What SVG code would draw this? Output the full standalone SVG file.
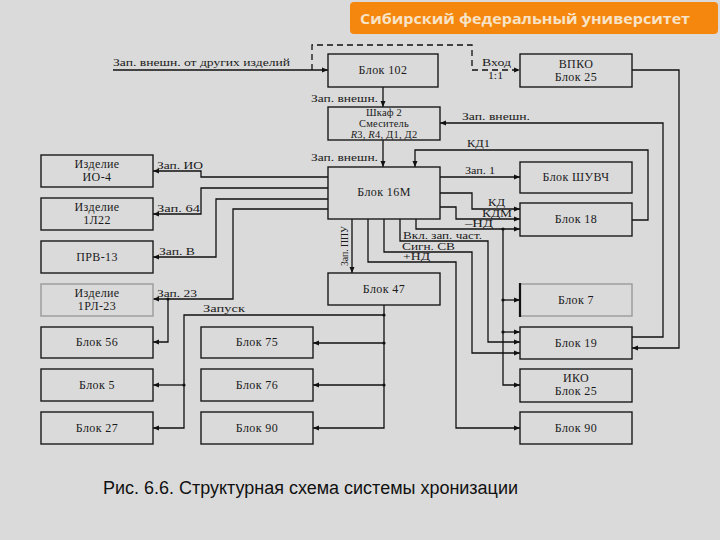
<svg xmlns="http://www.w3.org/2000/svg" width="720" height="540" viewBox="0 0 720 540">
<defs>
<marker id="ar" markerWidth="6" markerHeight="6" refX="6" refY="3" orient="auto" markerUnits="userSpaceOnUse"><path d="M0,0.5 L6,3 L0,5.5 z" fill="#111"/></marker>
<style>
.bx{fill:none;stroke:#1a1a1a;stroke-width:1.4}
.bxl{fill:none;stroke:#9a9a9a;stroke-width:1.4}
.t{font-family:"Liberation Serif","Times New Roman",serif;font-size:12px;letter-spacing:0.4px;fill:#1a1a1a;text-anchor:middle}
.s{font-size:10.5px;letter-spacing:0.2px}
.l{font-family:"Liberation Serif","Times New Roman",serif;font-size:11px;fill:#1a1a1a}
.m{font-size:9.5px}
.c{fill:none;stroke:#111;stroke-width:1.3}
.a{marker-end:url(#ar)}
.d{fill:#111}
</style>
</defs>
<rect width="720" height="540" fill="#dadada"/>
<g id="header">
<rect x="350" y="2" width="368" height="32" rx="4" fill="#f5870e"/>
<text x="360" y="24" font-family="'Open Sans','DejaVu Sans',sans-serif" font-weight="bold" font-size="15" fill="#f7e3c8" textLength="330" lengthAdjust="spacingAndGlyphs">Сибирский федеральный университет</text>
</g>
<g id="connectors">
<path class="c a" d="M113,70 H328"/>
<path class="c a" d="M312,70 V45 H472 V70 H520" stroke-dasharray="6,4"/>
<path class="c a" d="M383,87 V107"/>
<path class="c a" d="M383,140 V167"/>
<path class="c a" d="M632,70 H679 V348 H632"/>
<path class="c a" d="M632,337 H663 V123 H440"/>
<path class="c a" d="M632,220 H648 V150 H415 V167"/>
<path class="c a" d="M440,177 H520"/>
<path class="c a" d="M440,193 H472 V209 H520"/>
<path class="c a" d="M440,207 H456 V219 H520"/>
<path class="c a" d="M416,219 V229 H520"/>
<path class="c a" d="M503,229 V385 H520"/>
<path class="c a" d="M503,300 H520"/>
<path class="c a" d="M503,332 H520"/>
<circle class="d" cx="503" cy="229" r="1.6"/>
<circle class="d" cx="503" cy="300" r="1.6"/>
<circle class="d" cx="503" cy="332" r="1.6"/>
<path class="c a" d="M400,219 V241 H488 V342 H520"/>
<path class="c a" d="M384,219 V252 H472 V353 H520"/>
<path class="c a" d="M368,219 V262 H456 V428 H520"/>
<path class="c a" d="M352,219 V273"/>
<path class="c a" d="M328,177 H201 V171 H153"/>
<path class="c a" d="M328,188 H201 V214 H153"/>
<path class="c a" d="M328,199 H216 V257 H153"/>
<path class="c a" d="M328,209 H233 V299 H153"/>
<path class="c a" d="M168,299 V342 H153"/>
<circle class="d" cx="168" cy="299" r="1.6"/>
<path class="c a" d="M384,305 V428 H313"/>
<path class="c a" d="M384,343 H313"/>
<path class="c a" d="M384,385 H313"/>
<circle class="d" cx="384" cy="315" r="1.6"/>
<circle class="d" cx="384" cy="343" r="1.6"/>
<circle class="d" cx="384" cy="385" r="1.6"/>
<path class="c a" d="M384,315 H184 V428 H153"/>
<path class="c a" d="M184,385 H153"/>
<circle class="d" cx="184" cy="385" r="1.6"/>
<text class="l" x="113" y="66" textLength="177" lengthAdjust="spacingAndGlyphs">Зап. внешн. от других изделий</text>
<text class="l" x="482" y="66" textLength="29" lengthAdjust="spacingAndGlyphs">Вход</text>
<text class="l" x="488" y="79" textLength="15" lengthAdjust="spacingAndGlyphs">1:1</text>
<text class="l" x="311" y="102" textLength="67" lengthAdjust="spacingAndGlyphs">Зап. внешн.</text>
<text class="l" x="311" y="161" textLength="67" lengthAdjust="spacingAndGlyphs">Зап. внешн.</text>
<text class="l" x="462" y="120" textLength="68" lengthAdjust="spacingAndGlyphs">Зап. внешн.</text>
<text class="l" x="467" y="147" textLength="23" lengthAdjust="spacingAndGlyphs">КД1</text>
<text class="l" x="465" y="174" textLength="30" lengthAdjust="spacingAndGlyphs">Зап. 1</text>
<text class="l m" x="488" y="206" textLength="17" lengthAdjust="spacingAndGlyphs">КД</text>
<text class="l m" x="482" y="216.5" textLength="30" lengthAdjust="spacingAndGlyphs">КДМ</text>
<text class="l m" x="465" y="227" textLength="28" lengthAdjust="spacingAndGlyphs">–НД</text>
<text class="l m" x="403" y="239" textLength="79" lengthAdjust="spacingAndGlyphs">Вкл. зап. част.</text>
<text class="l m" x="402" y="249.5" textLength="53" lengthAdjust="spacingAndGlyphs">Сигн. СВ</text>
<text class="l m" x="403" y="260" textLength="27" lengthAdjust="spacingAndGlyphs">+НД</text>
<text class="l" x="0" y="0" transform="translate(348,266) rotate(-90)" font-size="10" textLength="40" lengthAdjust="spacingAndGlyphs">Зап. ППУ</text>
<text class="l" x="157" y="169" textLength="46" lengthAdjust="spacingAndGlyphs">Зап. ИО</text>
<text class="l" x="157" y="212" textLength="43" lengthAdjust="spacingAndGlyphs">Зап. 64</text>
<text class="l" x="159" y="255" textLength="36" lengthAdjust="spacingAndGlyphs">Зап. В</text>
<text class="l" x="157" y="297" textLength="40" lengthAdjust="spacingAndGlyphs">Зап. 23</text>
<text class="l" x="203" y="312" textLength="42" lengthAdjust="spacingAndGlyphs">Запуск</text>
</g>
<g id="n-b102"><rect class="bx" x="328" y="54" width="110" height="33"/><text class="t" x="383" y="74">Блок 102</text></g>
<g id="n-vpko"><rect class="bx" x="520" y="54" width="112" height="33"/><text class="t" x="576" y="68">ВПКО</text><text class="t" x="576" y="81">Блок 25</text></g>
<g id="n-shkaf2"><rect class="bx" x="328" y="107" width="112" height="33"/><text class="t s" x="384" y="116">Шкаф 2</text><text class="t s" x="384" y="127">Смеситель</text><text class="t s" x="384" y="138"><tspan font-style="italic">R</tspan>3, <tspan font-style="italic">R</tspan>4, Д1, Д2</text></g>
<g id="n-b16m"><rect class="bx" x="328" y="167" width="112" height="52"/><text class="t" x="384" y="196">Блок 16М</text></g>
<g id="n-io4"><rect class="bx" x="41" y="155" width="112" height="32"/><text class="t" x="97" y="168">Изделие</text><text class="t" x="97" y="181">ИО-4</text></g>
<g id="n-1l22"><rect class="bx" x="41" y="198" width="112" height="32"/><text class="t" x="97" y="211">Изделие</text><text class="t" x="97" y="224">1Л22</text></g>
<g id="n-prv13"><rect class="bx" x="41" y="241" width="112" height="32"/><text class="t" x="97" y="261">ПРВ-13</text></g>
<g id="n-1rl23"><rect class="bxl" x="41" y="284" width="112" height="32"/><text class="t" x="97" y="297">Изделие</text><text class="t" x="97" y="310">1РЛ-23</text></g>
<g id="n-b56"><rect class="bx" x="41" y="327" width="112" height="31"/><text class="t" x="97" y="346">Блок 56</text></g>
<g id="n-b5"><rect class="bx" x="41" y="369" width="112" height="32"/><text class="t" x="97" y="389">Блок 5</text></g>
<g id="n-b27"><rect class="bx" x="41" y="412" width="112" height="32"/><text class="t" x="97" y="432">Блок 27</text></g>
<g id="n-b75"><rect class="bx" x="201" y="327" width="112" height="31"/><text class="t" x="257" y="346">Блок 75</text></g>
<g id="n-b76"><rect class="bx" x="201" y="369" width="112" height="32"/><text class="t" x="257" y="389">Блок 76</text></g>
<g id="n-b90a"><rect class="bx" x="201" y="412" width="112" height="32"/><text class="t" x="257" y="432">Блок 90</text></g>
<g id="n-b47"><rect class="bx" x="328" y="273" width="112" height="32"/><text class="t" x="384" y="293">Блок 47</text></g>
<g id="n-shuvch"><rect class="bx" x="520" y="162" width="112" height="31"/><text class="t" x="576" y="181">Блок ШУВЧ</text></g>
<g id="n-b18"><rect class="bx" x="520" y="203" width="112" height="33"/><text class="t" x="576" y="223">Блок 18</text></g>
<g id="n-b7"><rect class="bxl" x="520" y="284" width="112" height="32"/><line x1="520" y1="283" x2="520" y2="317" stroke="#111" stroke-width="2.2"/><text class="t" x="576" y="304">Блок 7</text></g>
<g id="n-b19"><rect class="bx" x="520" y="327" width="112" height="32"/><text class="t" x="576" y="347">Блок 19</text></g>
<g id="n-iko"><rect class="bx" x="520" y="369" width="112" height="33"/><text class="t" x="576" y="382">ИКО</text><text class="t" x="576" y="395">Блок 25</text></g>
<g id="n-b90b"><rect class="bx" x="520" y="412" width="112" height="32"/><text class="t" x="576" y="432">Блок 90</text></g>
<text x="103" y="494" font-family="'Liberation Sans',Arial,sans-serif" font-size="18" fill="#111" textLength="415" lengthAdjust="spacingAndGlyphs">Рис. 6.6. Структурная схема системы хронизации</text>
</svg>
